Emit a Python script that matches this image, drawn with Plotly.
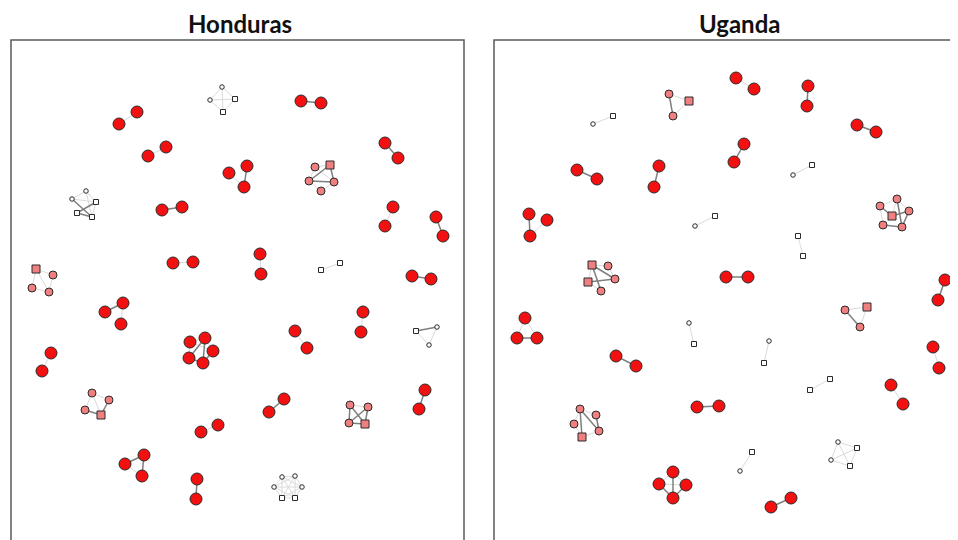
import plotly.graph_objects as go

# Node layouts (layout units of each panel)
# kind: R = red circle, Pc/Ps = pink circle/square, Wc/Ws = white circle/square
hon_x = [119, 137, 222, 210, 235, 223, 301, 321, 148, 166,
         229, 247, 244, 315, 330, 309, 334, 321, 385, 398,
         86, 72, 96, 77, 92, 162, 182, 393, 385, 436,
         443, 173, 193, 260, 261, 340, 321, 36, 53, 32,
         49, 412, 431, 123, 105, 121, 363, 361, 295, 307,
         416, 437, 429, 190, 205, 213, 189, 203, 51, 42,
         92, 109, 85, 101, 284, 269, 350, 368, 349, 365,
         425, 419, 218, 201, 144, 125, 142, 197, 196, 282,
         295, 274, 302, 282, 295]
hon_y = [124, 112, 87, 100, 99, 112, 101, 103, 156, 147,
         173, 166, 187, 167, 165, 181, 182, 191, 143, 158,
         191, 199, 202, 213, 217, 210, 207, 207, 226, 217,
         236, 263, 262, 254, 274, 263, 270, 269, 275, 288,
         292, 276, 279, 303, 312, 324, 312, 332, 331, 348,
         331, 327, 345, 342, 338, 351, 358, 363, 353, 371,
         393, 400, 410, 415, 399, 412, 405, 407, 423, 424,
         390, 409, 425, 432, 455, 464, 476, 479, 499, 477,
         476, 487, 487, 498, 498]
hon_kind = ["R", "R", "Wc", "Wc", "Ws", "Ws", "R", "R", "R", "R",
            "R", "R", "R", "Pc", "Ps", "Pc", "Pc", "Pc", "R", "R",
            "Wc", "Wc", "Ws", "Ws", "Ws", "R", "R", "R", "R", "R",
            "R", "R", "R", "R", "R", "Ws", "Ws", "Ps", "Pc", "Pc",
            "Pc", "R", "R", "R", "R", "R", "R", "R", "R", "R",
            "Ws", "Wc", "Wc", "R", "R", "R", "R", "R", "R", "R",
            "Pc", "Pc", "Pc", "Ps", "R", "R", "Pc", "Pc", "Pc", "Ps",
            "R", "R", "R", "R", "R", "R", "R", "R", "R", "Wc",
            "Wc", "Wc", "Wc", "Ws", "Ws"]
hon_strong = [(6, 7), (11, 12), (14, 15), (14, 16), (15, 16), (18, 19),
              (21, 24), (22, 23), (23, 24), (25, 26), (29, 30), (41, 42),
              (43, 44), (50, 51), (54, 57), (54, 56), (57, 55), (56, 57),
              (62, 63), (61, 63), (64, 65), (66, 68), (66, 69), (67, 68),
              (67, 69), (68, 69), (70, 71), (74, 75), (74, 76), (77, 78)]
hon_weak = [(0, 1), (2, 3), (2, 4), (3, 4), (3, 5), (4, 5), (2, 5), (8, 9),
            (10, 12), (13, 15), (13, 14), (15, 17), (16, 17), (13, 16),
            (20, 21), (20, 22), (21, 22), (22, 24), (20, 24), (27, 28),
            (31, 32), (33, 34), (35, 36), (37, 38), (37, 39), (39, 40),
            (38, 40), (37, 40), (43, 45), (46, 47), (48, 49), (50, 52),
            (51, 52), (53, 54), (53, 56), (53, 55), (54, 55), (58, 59),
            (60, 61), (60, 62), (60, 63), (66, 67), (72, 73), (75, 76),
            (79, 80), (79, 81), (79, 82), (79, 83), (79, 84), (80, 81),
            (80, 82), (80, 83), (80, 84), (81, 82), (81, 83), (81, 84),
            (82, 83), (82, 84), (83, 84)]

uga_x = [736, 754, 669, 689, 673, 593, 613, 808, 807, 857,
         876, 744, 734, 577, 597, 659, 654, 793, 812, 529,
         547, 530, 695, 715, 897, 880, 892, 909, 883, 902,
         798, 803, 592, 608, 588, 615, 601, 726, 748, 945,
         938, 525, 517, 537, 689, 694, 845, 867, 860, 933,
         939, 616, 636, 769, 764, 810, 830, 891, 903, 580,
         596, 574, 582, 599, 697, 719, 740, 752, 838, 857,
         831, 850, 673, 659, 686, 673, 771, 791]
uga_y = [78, 89, 94, 101, 116, 124, 116, 86, 106, 125,
         132, 144, 162, 170, 179, 166, 187, 175, 165, 214,
         220, 236, 226, 216, 199, 206, 216, 211, 225, 227,
         236, 256, 265, 266, 282, 279, 291, 277, 277, 280,
         300, 318, 338, 338, 323, 344, 310, 307, 327, 347,
         368, 356, 366, 341, 363, 390, 379, 385, 404, 409,
         415, 424, 437, 431, 407, 406, 471, 452, 442, 448,
         460, 466, 472, 484, 485, 498, 507, 498]
uga_kind = ["R", "R", "Pc", "Ps", "Pc", "Wc", "Ws", "R", "R", "R",
            "R", "R", "R", "R", "R", "R", "R", "Wc", "Ws", "R",
            "R", "R", "Wc", "Ws", "Pc", "Pc", "Ps", "Pc", "Pc", "Pc",
            "Ws", "Ws", "Ps", "Pc", "Ps", "Pc", "Pc", "R", "R", "R",
            "R", "R", "R", "R", "Wc", "Ws", "Pc", "Ps", "Pc", "R",
            "R", "R", "R", "Wc", "Ws", "Ws", "Ws", "R", "R", "Pc",
            "Pc", "Pc", "Ps", "Pc", "R", "R", "Wc", "Ws", "Wc", "Ws",
            "Wc", "Ws", "R", "R", "R", "R", "R", "R"]
uga_strong = [(2, 4), (7, 8), (9, 10), (11, 12), (13, 14), (15, 16),
              (19, 21), (24, 29), (25, 26), (26, 27), (28, 29), (27, 29),
              (32, 35), (32, 36), (34, 35), (37, 38), (39, 40), (42, 43),
              (46, 48), (51, 52), (59, 63), (60, 63), (59, 62), (64, 65),
              (72, 75), (73, 75), (74, 75), (76, 77)]
uga_weak = [(0, 1), (2, 3), (3, 4), (5, 6), (17, 18), (20, 21), (22, 23),
            (24, 25), (24, 27), (25, 28), (26, 28), (24, 26), (30, 31),
            (32, 33), (32, 34), (34, 36), (33, 35), (41, 42), (41, 43),
            (44, 45), (46, 47), (47, 48), (49, 50), (53, 54), (55, 56),
            (57, 58), (59, 61), (61, 62), (62, 63), (59, 60), (66, 67),
            (68, 69), (68, 70), (69, 70), (69, 71), (70, 71), (68, 71),
            (72, 73), (72, 74), (73, 74)]

# marker style per node kind
kind_style = {
    "R":  dict(symbol="circle", size=12, color="#F21010"),
    "Pc": dict(symbol="circle", size=8, color="#F08080"),
    "Ps": dict(symbol="square", size=8, color="#F08080"),
    "Wc": dict(symbol="circle", size=4.5, color="#FFFFFF"),
    "Ws": dict(symbol="square", size=5, color="#FFFFFF"),
}

W, H = 958, 540
OFF = 8  # page body margin, the figure sits 8px in from the window corner
panels = [
    dict(name="Honduras", x=hon_x, y=hon_y, kind=hon_kind, strong=hon_strong,
         weak=hon_weak, left=11, right=464, top=40, title_x=240),
    dict(name="Uganda", x=uga_x, y=uga_y, kind=uga_kind, strong=uga_strong,
         weak=uga_weak, left=494, right=966, top=40, title_x=739),
]

fig = go.Figure()


def edge_xy(xs, ys, pairs):
    ex, ey = [], []
    for a, b in pairs:
        ex += [xs[a], xs[b], None]
        ey += [ys[a], ys[b], None]
    return ex, ey


for i, p in enumerate(panels):
    ax = "" if i == 0 else str(i + 1)
    xa, ya = "x" + ax, "y" + ax

    for pairs, col, wid in [(p["weak"], "#DADADA", 1), (p["strong"], "#7F7F7F", 1.5)]:
        ex, ey = edge_xy(p["x"], p["y"], pairs)
        fig.add_trace(go.Scatter(x=ex, y=ey, mode="lines", xaxis=xa, yaxis=ya,
                                 line=dict(color=col, width=wid),
                                 hoverinfo="skip", showlegend=False))

    for k, st in kind_style.items():
        idx = [j for j, kk in enumerate(p["kind"]) if kk == k]
        if not idx:
            continue
        fig.add_trace(go.Scatter(
            x=[p["x"][j] for j in idx], y=[p["y"][j] for j in idx],
            mode="markers", xaxis=xa, yaxis=ya, showlegend=False,
            marker=dict(symbol=st["symbol"], size=st["size"], color=st["color"],
                        line=dict(color="#2B2B2B", width=1))))

    dom_x = [(p["left"] - OFF) / W, min((p["right"] - OFF) / W, 1.0)]
    dom_y = [0, 1 - (p["top"] - OFF) / H]
    fig.update_layout({
        "xaxis" + ax: dict(domain=dom_x,
                           range=[p["left"], p["left"] + (dom_x[1] - dom_x[0]) * W],
                           visible=False, fixedrange=True),
        "yaxis" + ax: dict(domain=dom_y, range=[H + OFF, p["top"]], visible=False,
                           fixedrange=True),
    })

    # panel frame, bottom (and Uganda's right side) run past the window
    fig.add_shape(type="rect", xref=xa + " domain", yref=ya + " domain",
                  x0=0, x1=1 if i == 0 else 1.05, y0=-0.05, y1=1,
                  line=dict(color="#5A5A5A", width=1.5))

    fig.add_annotation(text="<b>%s</b>" % p["name"], xref="paper", yref="paper",
                       x=(p["title_x"] - OFF) / W, y=1 - (23 - OFF) / H,
                       xanchor="center", yanchor="middle", showarrow=False,
                       font=dict(family="Lato", size=24, color="#111111"))

fig.update_layout(width=W, height=H, margin=dict(l=0, r=0, t=0, b=0),
                  paper_bgcolor="white", plot_bgcolor="white")

fig.write_html("out.html")
